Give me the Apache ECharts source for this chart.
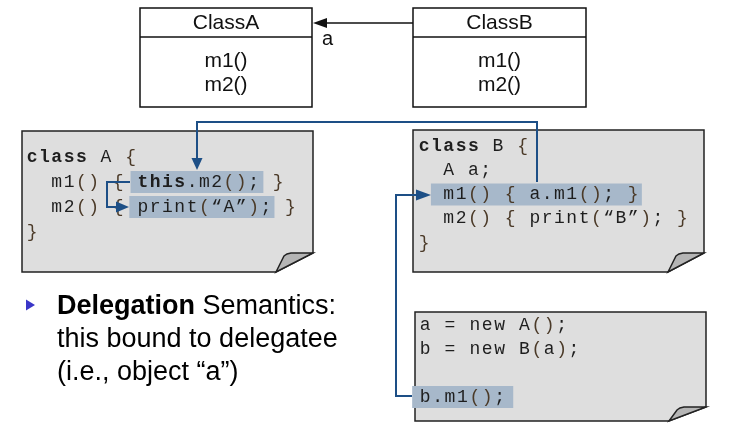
<html>
<head>
<meta charset="utf-8">
<script src="https://cdn.jsdelivr.net/npm/echarts@6/dist/echarts.min.js"></script>
</head>
<body>
<style>
    html, body { width: 100%; height: 100%; margin: 0; background: #fff; }
    #main { width: 736px; height: 427px; }
</style>
<div id="main"></div>
<script>
// code listings (one string per line)
var codeA = ['class A {', '  m1() { this.m2(); }', '  m2() { print(\u201cA\u201d); }', '}'];
var codeB = ['class B {', '  A a;', '  m1() { a.m1(); }', '  m2() { print(\u201cB\u201d); }', '}'];
var codeMain = ['a = new A();', 'b = new B(a);', '', 'b.m1();'];
var keywords = ['class', 'this'];
// highlighted spans: [line, fromChar, toChar]
var hlA = [[1, 8.5, 19.3], [2, 8.4, 20.2]];
var hlB = [[2, 1.05, 18.2]];
var hlMain = [[3, -0.55, 7.6]];
// UML classes
var umlNames = ['ClassA', 'ClassB'];
var umlMethods = ['m1()', 'm2()'];
var assocLabel = 'a';
var bulletBold = 'Delegation';
var bulletLines = [' Semantics:', 'this bound to delegatee', '(i.e., object \u201ca\u201d)'];

var BLUE = '#1d4f86';
var HL = '#a7b8ca';
var PAPER = '#dedede';
var PITCH = 12.3;

var g = [];

function note(x1, y1, x2, y2, cx, cy) {
    // paper with folded bottom-right corner
    g.push({ type: 'polygon', shape: { points: [[x1, y1], [x2, y1], [x2, cy], [cx, y2], [x1, y2]] },
        style: { fill: PAPER, stroke: '#222', lineWidth: 1.5 } });
    g.push({ type: 'polygon', shape: { points: [[cx, y2], [cx + 8, cy + 3], [cx + 11, cy + 1], [cx + 15, cy], [x2, cy]] },
        style: { fill: '#b5b5b5', stroke: '#222', lineWidth: 1.5 } });
}

function code(lines, x0, y0, dy, hls, pitch) {
    hls.forEach(function (h) {
        g.push({ type: 'rect', shape: { x: x0 + h[1] * pitch, y: y0 + h[0] * dy - 11, width: (h[2] - h[1]) * pitch, height: 22 },
            style: { fill: HL } });
    });
    lines.forEach(function (line, li) {
        var bold = [];
        keywords.forEach(function (k) {
            var re = new RegExp('\\b' + k + '\\b', 'g'), m;
            while ((m = re.exec(line))) { for (var j = 0; j < k.length; j++) bold[m.index + j] = true; }
        });
        for (var i = 0; i < line.length; i++) {
            var ch = line[i];
            if (ch === ' ') continue;
            g.push({ type: 'text', x: x0 + i * pitch + pitch / 2, y: y0 + li * dy,
                style: { text: ch, fill: /[{}()]/.test(ch) ? '#4b3a28' : '#1e1e1e',
                    font: (bold[i] ? 'bold ' : '') + '18px "Liberation Mono", monospace',
                    textAlign: 'center', textVerticalAlign: 'middle' } });
        }
    });
}

function head(x, y, dir, color, len, w) {
    var pts;
    if (dir === 'down') pts = [[x, y], [x - w / 2, y - len], [x + w / 2, y - len]];
    else if (dir === 'right') pts = [[x, y], [x - len, y - w / 2], [x - len, y + w / 2]];
    else pts = [[x, y], [x + len, y - w / 2], [x + len, y + w / 2]];
    g.push({ type: 'polygon', shape: { points: pts }, style: { fill: color } });
}

function wire(points) {
    g.push({ type: 'polyline', shape: { points: points }, style: { stroke: BLUE, lineWidth: 2, fill: null } });
}

// UML boxes
[[140, 312], [413, 586]].forEach(function (b, i) {
    g.push({ type: 'rect', shape: { x: b[0], y: 8, width: b[1] - b[0], height: 99 },
        style: { fill: '#fff', stroke: '#111', lineWidth: 1.5 } });
    g.push({ type: 'line', shape: { x1: b[0], y1: 37, x2: b[1], y2: 37 }, style: { stroke: '#111', lineWidth: 1.5 } });
    var cx = (b[0] + b[1]) / 2;
    g.push({ type: 'text', x: cx, y: 23, style: { text: umlNames[i], font: '21px "Liberation Sans"', fill: '#111',
        textAlign: 'center', textVerticalAlign: 'middle' } });
    umlMethods.forEach(function (m, k) {
        g.push({ type: 'text', x: cx, y: 61 + k * 24, style: { text: m, font: '21px "Liberation Sans"', fill: '#111',
            textAlign: 'center', textVerticalAlign: 'middle' } });
    });
});
g.push({ type: 'line', shape: { x1: 413, y1: 23, x2: 322, y2: 23 }, style: { stroke: '#111', lineWidth: 1.5 } });
head(313, 23, 'left', '#111', 14, 10);
g.push({ type: 'text', x: 322, y: 39, style: { text: assocLabel, font: '20px "Liberation Sans"', fill: '#111',
    textVerticalAlign: 'middle' } });

// code notes
note(22, 131, 313, 272, 276, 253);
note(413, 130, 704, 272, 668, 253);
note(415, 312, 706, 421, 669, 407);
code(codeA, 26, 157, 25, hlA, PITCH);
code(codeB, 418, 146, 24.2, hlB, PITCH);
code(codeMain, 419, 325, 24, hlMain, 12.4);

// call arrows
wire([[537, 182], [537, 122], [197, 122], [197, 160]]);
head(197, 170, 'down', BLUE, 12, 11);
wire([[130, 182], [107, 182], [107, 207], [117, 207]]);
head(129, 207, 'right', BLUE, 13, 11);
wire([[412, 396], [396, 396], [396, 195], [419, 195]]);
head(431, 195, 'right', BLUE, 15, 11);

// bullet
head(35, 305, 'right', '#3a36c8', 9, 11);
g.push({ type: 'text', x: 57, y: 307, style: {
    text: '{b|' + bulletBold + '}{n|' + bulletLines[0] + '}',
    textVerticalAlign: 'middle',
    rich: { b: { font: 'bold 27px "Liberation Sans"', fill: '#000' }, n: { font: '27px "Liberation Sans"', fill: '#000' } } } });
bulletLines.slice(1).forEach(function (t, i) {
    g.push({ type: 'text', x: 57, y: 340 + i * 32.5, style: { text: t, font: '27px "Liberation Sans"', fill: '#000',
        textVerticalAlign: 'middle' } });
});

var chart = echarts.init(document.getElementById('main'));
chart.setOption({ backgroundColor: '#fff', animation: false, graphic: { elements: g } });
window.onresize = chart.resize;
</script>
</body>
</html>
